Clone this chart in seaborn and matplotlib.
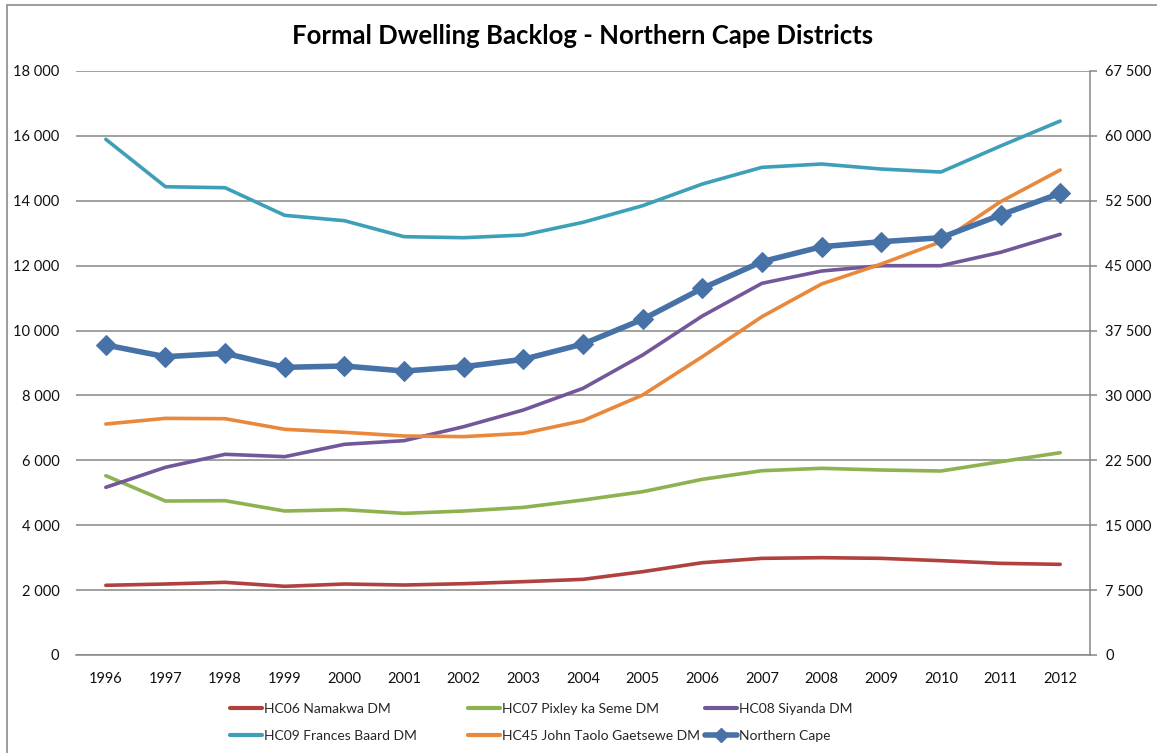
import pandas as pd
import matplotlib.pyplot as plt
import matplotlib.patches as mpatches
from matplotlib.lines import Line2D
from matplotlib.ticker import FuncFormatter
import seaborn as sns

# Data
years = list(range(1996, 2013))
namakwa = [2148, 2188, 2240, 2117, 2188, 2157, 2198, 2260, 2332, 2568, 2845, 2979, 3000, 2979, 2907, 2825, 2794]
pixley = [5526, 4746, 4756, 4438, 4478, 4366, 4438, 4550, 4777, 5033, 5415, 5680, 5754, 5702, 5671, 5958, 6235]
siyanda = [5168, 5785, 6186, 6113, 6494, 6606, 7037, 7551, 8219, 9246, 10448, 11456, 11835, 11999, 11999, 12411, 12966]
frances = [15895, 14433, 14402, 13551, 13386, 12893, 12862, 12944, 13336, 13848, 14516, 15031, 15133, 14979, 14886, 15688, 16458]
taolo = [7119, 7294, 7283, 6956, 6864, 6750, 6730, 6832, 7222, 8013, 9194, 10428, 11435, 12051, 12738, 13971, 14948]
# Northern Cape total, plotted on the right axis
northern_cape = [35830, 34477, 34869, 33250, 33400, 32823, 33322, 34174, 35944, 38797, 42382, 45461, 47191, 47768, 48230, 50853, 53360]

district_names = ["HC06 Namakwa DM", "HC07 Pixley ka Seme DM", "HC08 Siyanda DM",
                  "HC09 Frances Baard DM", "HC45 John Taolo Gaetsewe DM"]
district_values = [namakwa, pixley, siyanda, frances, taolo]
colors = ["#B0413E", "#8DB24F", "#73579B", "#3E9FB8", "#E9883B"]
total_name = "Northern Cape"
total_color = "#4672A8"

sns.set_style("white")
plt.rcParams['font.family'] = ['Lato', 'DejaVu Sans']

fig = plt.figure(figsize=(11.57, 7.53), dpi=100)
ax = fig.add_axes([76 / 1157, 98 / 753, 1014 / 1157, 584 / 753])
ax2 = ax.twinx()

# Chart area border (cropped at the right and bottom like the original)
fig.patches.append(mpatches.Rectangle((7 / 1157, -0.05), 1.2, 748 / 753 + 0.05,
                                      transform=fig.transFigure, fill=False,
                                      edgecolor="#8c8c8c", linewidth=1.2))

for name, vals, col in zip(district_names, district_values, colors):
    df = pd.DataFrame({"year": years, "value": vals})
    sns.lineplot(data=df, x="year", y="value", ax=ax, color=col, linewidth=2.6, legend=False)

df_total = pd.DataFrame({"year": years, "value": northern_cape})
sns.lineplot(data=df_total, x="year", y="value", ax=ax2, color=total_color, linewidth=4,
             marker="D", markersize=10, markeredgecolor=total_color, legend=False)

fmt = FuncFormatter(lambda v, p: f"{int(v):,}".replace(",", " "))

ax.set_xlim(1995.5, 2012.5)
ax.set_ylim(0, 18000)
ax.set_yticks(range(0, 18001, 2000))
ax.yaxis.set_major_formatter(fmt)
ax.set_xticks(years)
ax.set_xlabel("")
ax.set_ylabel("")
ax.grid(axis="y", color="#868686", linewidth=1.1)
ax.grid(axis="x", visible=False)
ax.set_axisbelow(True)

ax2.set_ylim(0, 67500)
ax2.set_yticks(range(0, 67501, 7500))
ax2.yaxis.set_major_formatter(fmt)
ax2.set_ylabel("")
ax2.grid(False)

for a in (ax, ax2):
    for s in a.spines.values():
        s.set_visible(False)
ax.spines["bottom"].set_visible(True)
ax.spines["bottom"].set_color("#868686")
ax.spines["bottom"].set_linewidth(1.1)
ax2.spines["right"].set_visible(True)
ax2.spines["right"].set_color("#868686")
ax2.spines["right"].set_linewidth(1.1)

ax.tick_params(axis="y", length=0, pad=12, labelsize=10.5, labelcolor="#111111")
ax.tick_params(axis="x", length=0, pad=12, labelsize=10.5, labelcolor="#111111")
ax2.tick_params(axis="y", length=5, width=1.1, color="#868686", pad=6, labelsize=10.5, labelcolor="#111111")

fig.text(583 / 1157, 1 - 36 / 753, "Formal Dwelling Backlog - Northern Cape Districts",
         ha="center", va="center", fontsize=18.5, fontweight="bold", color="#000000")

# Legend: three fixed-position columns of two rows each
legend_handles = [Line2D([], [], color=c, linewidth=3) for c in colors]
legend_handles.append(Line2D([], [], color=total_color, linewidth=4, marker="D",
                             markersize=7, markeredgecolor=total_color))
labels = district_names + [total_name]
col_x = [230, 468, 705]
for k, x in enumerate(col_x):
    idx = [k, k + 3]
    fig.legend([legend_handles[i] for i in idx], [labels[i] for i in idx], ncol=1,
               loc="upper left", bbox_to_anchor=(x / 1157, 1 - 703 / 753), frameon=False,
               fontsize=10, handlelength=2.3, handletextpad=0.15,
               labelspacing=1.05, borderaxespad=0, borderpad=0)

fig.savefig("out.png", dpi=100)
